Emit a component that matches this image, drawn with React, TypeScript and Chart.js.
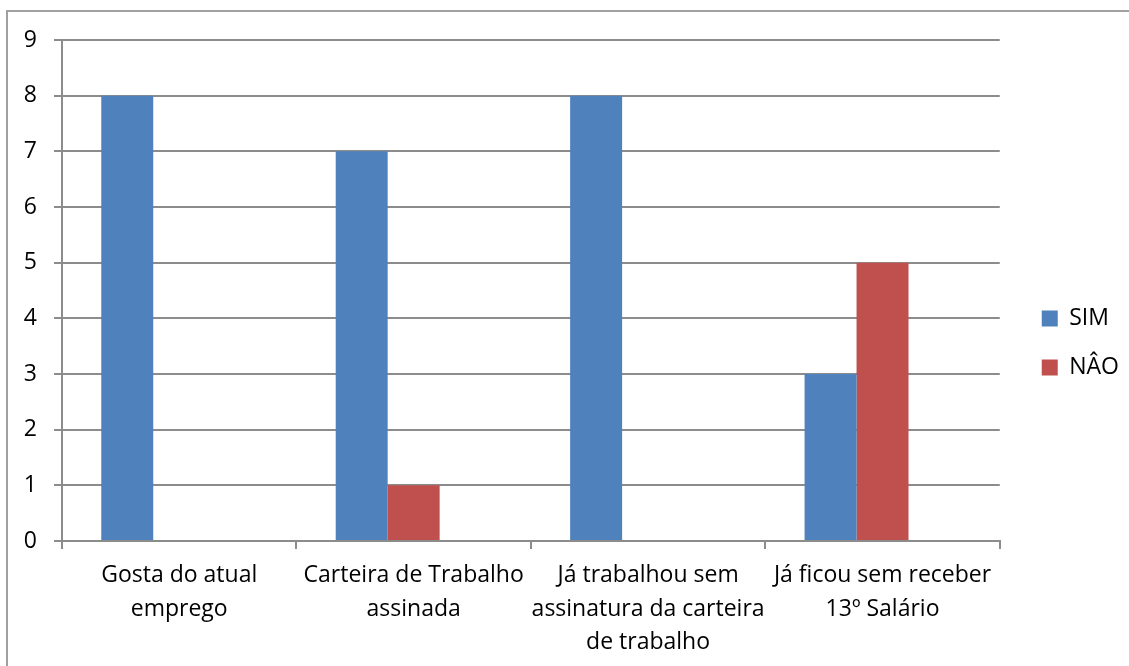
import React, { useEffect, useRef } from "react";
import { Chart, registerables } from "chart.js";

Chart.register(...registerables);

const categories: string[][] = [
  ["Gosta do atual", "emprego"],
  ["Carteira de Trabalho", "assinada"],
  ["Já trabalhou sem", "assinatura da carteira", "de trabalho"],
  ["Já ficou sem receber", "13º Salário"],
];
const simValues = [8, 7, 8, 3];
const naoValues = [0, 1, 0, 5];
const emptySeries = [0, 0, 0, 0];
const yTicks = [0, 1, 2, 3, 4, 5, 6, 7, 8, 9];

const FONT = "'Open Sans'";
const FS = 23;
const GRID = "#8c8c8c";

export default function App() {
  const ref = useRef<HTMLCanvasElement>(null);
  useEffect(() => {
    if (!ref.current) return;
    const legendPlacer = {
      id: "legendPlacer",
      afterLayout(chart: any) {
        const L = chart.legend;
        if (!L) return;
        const shift = 343 - (L.top + L.bottom) / 2;
        L.top += shift;
        L.bottom += shift;
        const w = L.width;
        L.left = chart.chartArea.right + 16;
        L.right = L.left + w;
      },
    };
    const chart = new Chart(ref.current, {
      type: "bar",
      data: {
        labels: categories,
        datasets: [
          { label: "SIM", data: simValues, backgroundColor: "#4F81BD", barPercentage: 1, categoryPercentage: 0.665 },
          { label: "NÂO", data: naoValues, backgroundColor: "#C0504D", barPercentage: 1, categoryPercentage: 0.665 },
          { label: "", data: emptySeries, backgroundColor: "rgba(0,0,0,0)", barPercentage: 1, categoryPercentage: 0.665 },
        ],
      },
      plugins: [legendPlacer],
      options: {
        responsive: false,
        animation: false,
        layout: { padding: { top: 40, left: 0, right: 16, bottom: 0 } },
        plugins: {
          tooltip: { enabled: false },
          legend: {
            position: "right",
            labels: {
              boxWidth: 16,
              boxHeight: 16,
              padding: 26,
              color: "#000",
              font: { family: FONT, size: FS },
              filter: (item: any) => item.text !== "",
            },
          },
        },
        scales: {
          x: {
            grid: { offset: true, drawOnChartArea: false, drawTicks: true, tickLength: 8, color: GRID, lineWidth: 2 },
            border: { display: true, color: GRID, width: 2 },
            ticks: {
              color: "#000",
              font: { family: FONT, size: FS, lineHeight: 1.46 },
              padding: 10,
              autoSkip: false,
              maxRotation: 0,
              minRotation: 0,
            },
            afterFit: (s: any) => { s.height = 125; },
          },
          y: {
            min: 0,
            max: 9,
            afterBuildTicks: (s: any) => { s.ticks = yTicks.map((v) => ({ value: v })); },
            grid: { color: GRID, lineWidth: 2, tickLength: 8, drawTicks: true },
            border: { display: true, color: GRID, width: 2 },
            ticks: { color: "#000", font: { family: FONT, size: FS }, padding: 17 },
            afterFit: (s: any) => { s.width = 62; },
          },
        },
      },
    });
    return () => chart.destroy();
  }, []);
  return (
    <div style={{ position: "fixed", left: 0, top: 0, width: 1129, height: 666, overflow: "hidden", background: "#fff" }}>
      <div style={{ position: "absolute", left: 6, top: 10, width: 2000, height: 2000, borderLeft: "2px solid #a0a0a0", borderTop: "2px solid #a0a0a0" }} />
      <canvas ref={ref} width={1129} height={666} style={{ position: "absolute", left: 0, top: 0 }} />
    </div>
  );
}
